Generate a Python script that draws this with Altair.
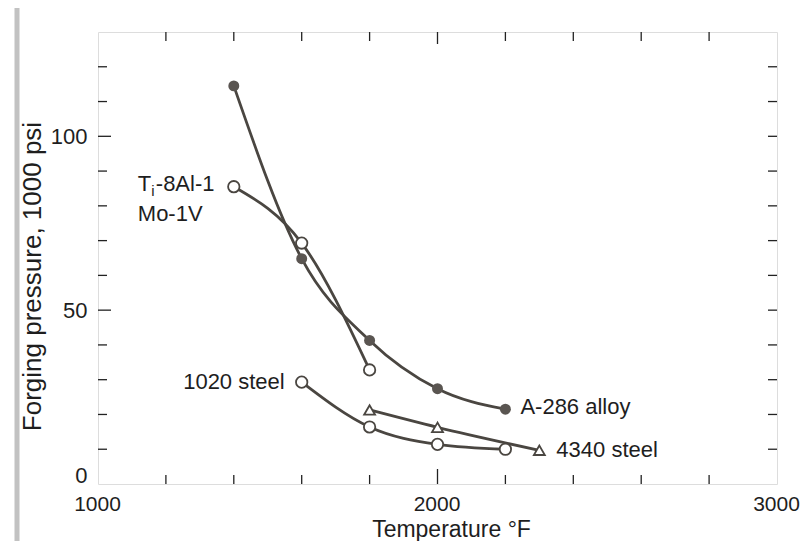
import altair as alt
import pandas as pd

# ---- data ----
a286_T = [1400, 1600, 1800, 2000, 2200]
a286_P = [114.5, 64.8, 41.3, 27.4, 21.5]

ti_T = [1400, 1600, 1800]
ti_P = [85.5, 69.3, 32.8]

s1020_T = [1600, 1800, 2000, 2200]
s1020_P = [29.3, 16.4, 11.4, 10.0]

s4340_T = [1800, 2000, 2300]
s4340_P = [21.3, 16.3, 9.7]

x_labels = [1000, 2000, 3000]
y_labels = [0, 50, 100]
x_minor = [1200, 1400, 1600, 1800, 2200, 2400, 2600, 2800]
x_major = [2000]
y_minor = [10, 20, 30, 40, 60, 70, 80, 90, 110, 120]
y_major = [50, 100]
y_right = [10, 20, 30, 40, 50, 60, 70, 80, 90, 100, 110, 120]

W, H = 679, 452
FONT = "Liberation Sans"
LINE = "#4a4641"
FILL = "#5a5551"
TXT = "#1e1e1e"

xs = alt.Scale(domain=[1000, 3000], nice=False, zero=False)
ys = alt.Scale(domain=[0, 130], nice=False)

x_axis = alt.Axis(values=x_labels, title="Temperature °F", format="d")
y_axis = alt.Axis(values=y_labels, title="Forging pressure, 1000 psi")

rows = []
for name, T, P, kind in [("A-286 alloy", a286_T, a286_P, "filled"),
                         ("Ti", ti_T, ti_P, "open"),
                         ("1020 steel", s1020_T, s1020_P, "open"),
                         ("4340 steel", s4340_T, s4340_P, "tri")]:
    for t, p in zip(T, P):
        rows.append({"series": name, "T": t, "P": p, "kind": kind})
df = pd.DataFrame(rows)

XN = alt.X("T:Q", scale=xs, axis=x_axis)
YN = alt.Y("P:Q", scale=ys, axis=y_axis)

base = alt.Chart(df)
lines = base.mark_line(interpolate="monotone", color=LINE, strokeWidth=2.8).encode(
    x=XN, y=YN, detail="series:N")

filled = base.transform_filter(alt.datum.kind == "filled").mark_point(
    shape="circle", filled=True, size=120, color=FILL, opacity=1).encode(x=XN, y=YN)
opened = base.transform_filter(alt.datum.kind == "open").mark_point(
    shape="circle", filled=True, size=130, fill="white", stroke=LINE,
    strokeWidth=1.8, opacity=1).encode(x=XN, y=YN)
tris = base.transform_filter(alt.datum.kind == "tri").mark_point(
    shape="triangle-up", filled=True, size=120, fill="white", stroke=LINE,
    strokeWidth=1.8, opacity=1).encode(x=XN, y=YN)

def label(text, t, p, dx, dy, align="left", size=22):
    d = pd.DataFrame({"T": [t], "P": [p], "txt": [text]})
    return alt.Chart(d).mark_text(align=align, baseline="middle", dx=dx, dy=dy,
                                  font=FONT, fontSize=size, color=TXT).encode(
        x=XN, y=YN, text="txt:N")

labels = [
    label("T", ti_T[0], ti_P[0], -96, -3),
    label("i", ti_T[0], ti_P[0], -82.5, 4, size=15),
    label("-8Al-1", ti_T[0], ti_P[0], -78, -3),
    label("Mo-1V", ti_T[0], ti_P[0], -96, 27),
    label("1020 steel", s1020_T[0], s1020_P[0], -17, 0, align="right"),
    label("A-286 alloy", a286_T[-1], a286_P[-1], 15, -2),
    label("4340 steel", s4340_T[-1], s4340_P[-1], 17, 0),
]

def yticks(vals, x0, x1):
    return alt.Chart(pd.DataFrame({"P": vals})).mark_rule(color="#222", strokeWidth=1.3).encode(
        y=YN, x=alt.value(x0), x2=alt.value(x1))

def xticks(vals, y0, y1):
    return alt.Chart(pd.DataFrame({"T": vals})).mark_rule(color="#222", strokeWidth=1.3).encode(
        x=XN, y=alt.value(y0), y2=alt.value(y1))

ticks = [
    yticks(y_minor, 0, 9), yticks(y_major, 0, 13),
    yticks(y_right, W, W - 9),
    xticks(x_minor, H, H - 9), xticks(x_major, H, H - 15),
    xticks(x_minor, 0, 9), xticks(x_major, 0, 12),
]

bar = alt.Chart(pd.DataFrame({"v": [0]})).mark_rule(color="#c2c2c2", strokeWidth=5).encode(
    x=alt.value(-81), y=alt.value(-27), y2=alt.value(509))

chart = alt.layer(lines, bar, *ticks, filled, opened, tris, *labels).properties(
    width=W, height=H,
    autosize=alt.AutoSizeParams(type="none"),
    padding={"left": 90, "top": 24, "right": 23, "bottom": 57},
).configure_view(stroke="#222", strokeWidth=2.2).configure(
    background="white"
).configure_axis(
    ticks=False, domain=False, grid=False,
    labelFont=FONT, titleFont=FONT, labelColor=TXT, titleColor=TXT,
    titleFontWeight="normal",
).configure_axisX(
    labelFlush=False, labelBaseline="alphabetic", labelPadding=26,
    labelFontSize=21, titleFontSize=23, titleBaseline="alphabetic",
    titleX=353, titleY=52, labelOffset=-1,
).configure_axisY(
    labelPadding=11, labelFontSize=22, titleFontSize=26,
    labelFlush=True, labelFlushOffset=3,
    titleX=-53, titleY=244,
)

chart.save("out.html", embed_options={"renderer": "svg", "actions": False})
